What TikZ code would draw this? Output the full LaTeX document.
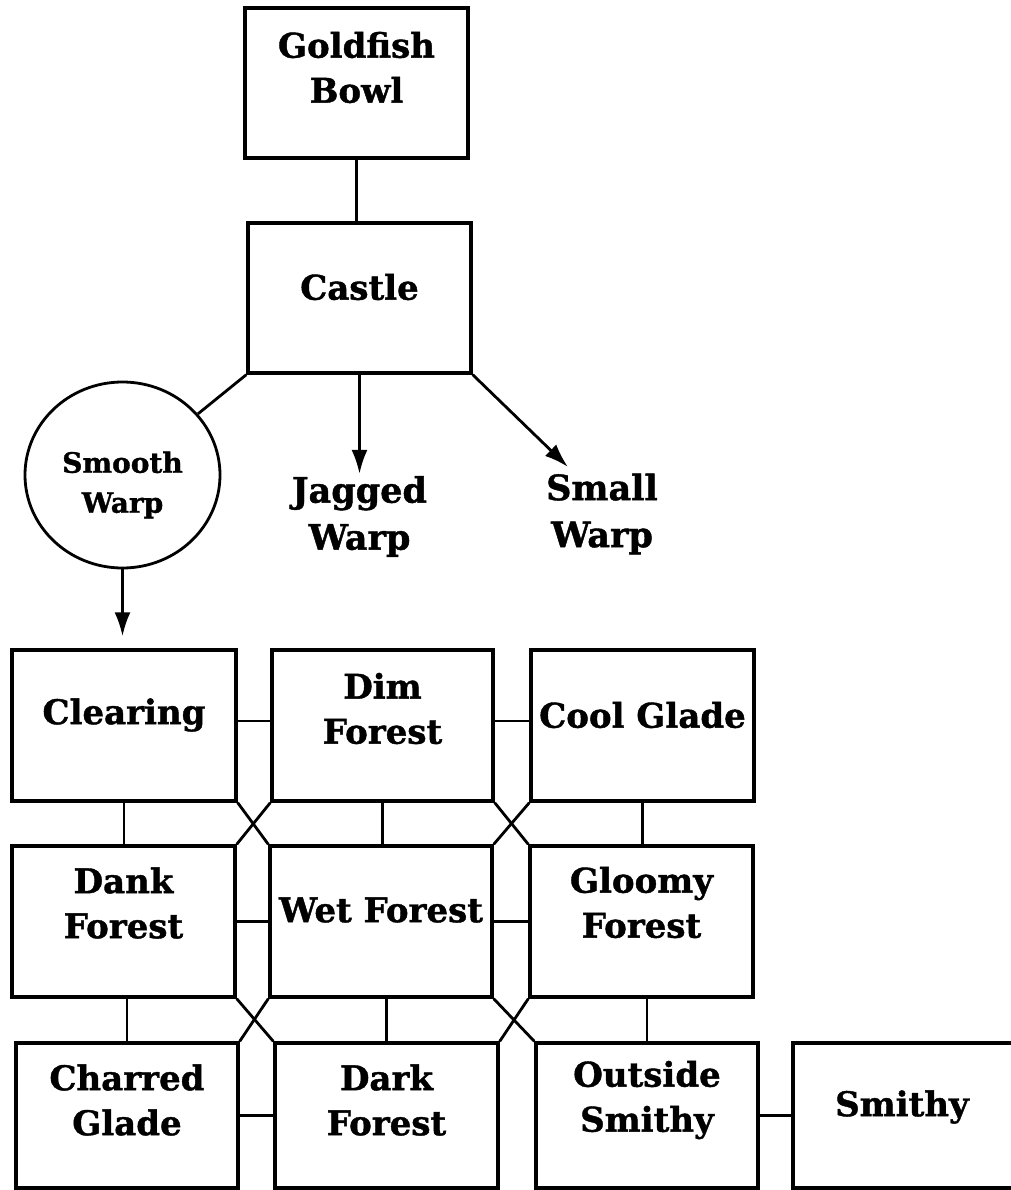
\documentclass[tikz,border=0pt]{standalone}
\usepackage{fontspec}
\setmainfont{DejaVu Serif}[BoldFeatures={FakeBold=1.2}]
\usetikzlibrary{arrows.meta,calc,shapes.geometric}
\begin{document}
\begin{tikzpicture}[x=1pt,y=-1pt,
  box/.style={draw,line width=3.4pt,inner sep=0pt,minimum height=151pt},
  lbl/.style={font=\fontsize{34}{45}\selectfont\bfseries,align=center,inner sep=0pt},
  biglbl/.style={font=\fontsize{35}{47}\selectfont\bfseries,align=center,inner sep=2pt},
  smalllbl/.style={font=\fontsize{28}{40}\selectfont\bfseries,align=center,inner sep=0pt},
  conn/.style={line width=2.8pt},
  arr/.style={line width=2.8pt,-{Latex[length=24pt,width=16pt]}}]
\useasboundingbox (0,0) rectangle (1010,1190);
% top boxes
\node[box,minimum width=223pt,minimum height=150pt] (gold) at (356.5,83) {};
\node[lbl] (goldt) at (356.5,67.5) {Goldfish\\Bowl};
\node[box,minimum width=223pt,minimum height=150pt] (castle) at (359.5,298) {};
\node[lbl] (castlet) at (359.5,287) {Castle};
\draw[conn] (gold.south) -- (gold.south |- castle.north);
% warps
\node[draw,ellipse,line width=2.8pt,minimum width=195pt,minimum height=186pt,inner sep=0pt] (smooth) at (122.5,475) {};
\node[smalllbl] (smootht) at (122.5,485) {Smooth\\Warp};
\node[biglbl] (jagged) at (359.5,516.5) {Jagged\\Warp};
\node[biglbl] (small) at (602,514) {Small\\Warp};
\coordinate (smalltip) at (568,467);
\draw[conn] (castle.south west) -- (smooth);
\draw[arr] (castle.south) -- (jagged.north);
\draw[arr] (castle.south east) -- (smalltip);
% grid row 1
\node[box,minimum width=224pt] (clearing) at (124,725.5) {};
\node[lbl] (clearingt) at (124,715) {Clearing};
\node[box,minimum width=221pt] (dim) at (382.5,725.5) {};
\node[lbl] (dimt) at (382.5,708.5) {Dim\\Forest};
\node[box,minimum width=223pt] (cool) at (642.5,725.5) {};
\node[lbl] (coolt) at (642.5,715) {Cool Glade};
% row 2
\node[box,minimum width=223pt] (dank) at (123.5,921.5) {};
\node[lbl] (dankt) at (123.5,903) {Dank\\Forest};
\node[box,minimum width=222pt] (wet) at (381,921.5) {};
\node[lbl] (wett) at (381,910) {Wet Forest};
\node[box,minimum width=223pt] (gloomy) at (641.5,921.5) {};
\node[lbl] (gloomyt) at (641.5,902.5) {Gloomy\\Forest};
% row 3
\node[box,minimum width=222pt,minimum height=145pt] (charred) at (127,1115.5) {};
\node[lbl] (charredt) at (127,1100) {Charred\\Glade};
\node[box,minimum width=223pt,minimum height=145pt] (dark) at (386.5,1115.5) {};
\node[lbl] (darkt) at (386.5,1100) {Dark\\Forest};
\node[box,minimum width=222pt,minimum height=145pt] (outside) at (647,1115.5) {};
\node[lbl] (outsidet) at (647,1100) {Outside\\Smithy};
\node[box,minimum width=227pt,minimum height=145pt] (smithy) at (906.5,1115.5) {};
\node[lbl] (smithyt) at (902,1107) {Smithy};
% arrow from smooth warp
\draw[arr,shorten >=12pt] (smooth.south) -- (smooth.south |- clearing.north);
% horizontal connectors
\coordinate (r1) at (0,721);
\draw[conn] (clearing.east |- r1) -- (dim.west |- r1);
\draw[conn] (dim.east |- r1) -- (cool.west |- r1);
\draw[conn] (dank.east) -- (wet.west);
\draw[conn] (wet.east) -- (gloomy.west);
\draw[conn] (charred.east) -- (dark.west);
\draw[conn] (outside.east) -- (smithy.west);
% vertical connectors
\draw[conn] (clearing.south) -- (clearing.south |- dank.north);
\draw[conn] (dim.south) -- (dim.south |- wet.north);
\draw[conn] (cool.south) -- (cool.south |- gloomy.north);
\draw[conn] (charred.north |- dank.south) -- (charred.north);
\draw[conn] (dark.north |- wet.south) -- (dark.north);
\draw[conn] (outside.north |- gloomy.south) -- (outside.north);
% diagonal crossings
\draw[conn] (clearing.south east) -- (wet.north west);
\draw[conn] (dim.south west) -- (dank.north east);
\draw[conn] (dim.south east) -- (gloomy.north west);
\draw[conn] (cool.south west) -- (wet.north east);
\draw[conn] (dank.south east) -- (dark.north west);
\draw[conn] (wet.south west) -- (charred.north east);
\draw[conn] (wet.south east) -- (outside.north west);
\draw[conn] (gloomy.south west) -- (dark.north east);
\end{tikzpicture}
\end{document}
